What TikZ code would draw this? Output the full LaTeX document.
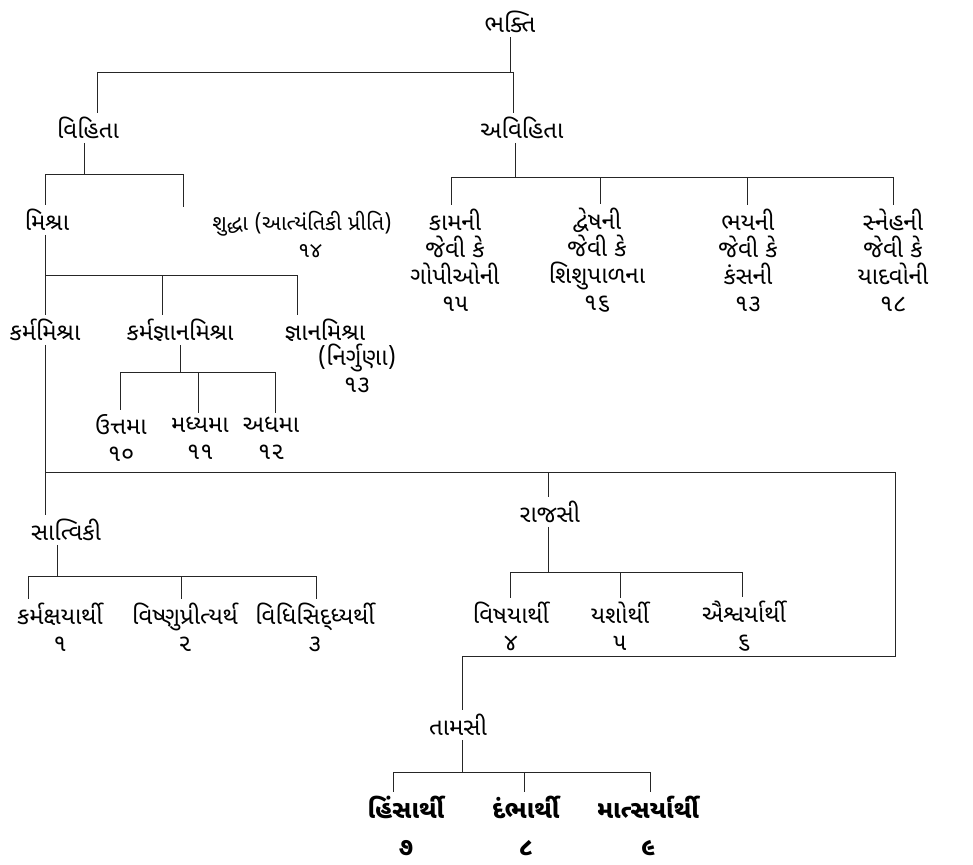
\documentclass[tikz,border=0pt]{standalone}
\usepackage{fontspec}
\newfontfamily\guj[Script=Gujarati]{Noto Sans Gujarati UI}
\begin{document}
\begin{tikzpicture}[x=1pt,y=-1pt,
  lbl/.style={font=\guj\fontsize{24}{27}\selectfont, inner sep=0pt, outer sep=4pt, align=center},
  lbls/.style={font=\guj\fontsize{21.5}{27}\selectfont, inner sep=0pt, outer sep=4pt, align=center},
  lblb/.style={font=\guj\bfseries\fontsize{25}{37}\selectfont, inner sep=0pt, outer sep=4pt, align=center},
  ln/.style={line width=0.6pt, black!85}]
\useasboundingbox (0,0) rectangle (973,864);
% nodes
\node[lbl] (root) at (510,22) {ભક્તિ};
\node[lbl] (vih) at (88,128) {વિહિતા};
\node[lbl] (avih) at (522,128) {અવિહિતા};
\node[lbl] (mis) at (47,220) {મિશ્રા};
\node[lbls] (shu) at (302,234) {શુદ્ધા (આત્યંતિકી પ્રીતિ)\\\hspace*{16pt}૧૪};
\node[lbl] (kam) at (455,260) {કામની\\જેવી કે\\ગોપીઓની\\૧૫};
\node[lbl] (dve) at (597,260) {દ્વેષની\\જેવી કે\\શિશુપાળના\\૧૬};
\node[lbl] (bha) at (748,260) {ભયની\\જેવી કે\\કંસની\\૧૩};
\node[lbl] (sne) at (893,260) {સ્નેહની\\જેવી કે\\યાદવોની\\૧૮};
\node[lbl] (km) at (45,330) {કર્મમિશ્રા};
\node[lbl] (kjm) at (180,330) {કર્મજ્ઞાનમિશ્રા};
\node[lbl] (jm) at (325,330) {જ્ઞાનમિશ્રા};
\node[lbl] (nir) at (357,368) {(નિર્ગુણા)\\૧૩};
\node[lbl] (utt) at (121,438) {ઉત્તમા\\૧૦};
\node[lbl] (mad) at (200,438) {મધ્યમા\\૧૧};
\node[lbl] (adh) at (271,438) {અધમા\\૧૨};
\node[lbl] (sat) at (66,530) {સાત્વિકી};
\node[lbl] (raj) at (550,512) {રાજસી};
\node[lbl] (tam) at (458,725) {તામસી};
\node[lbl] (s1) at (60,627) {કર્મક્ષયાર્થી\\૧};
\node[lbl] (s2) at (185,627) {વિષ્ણુપ્રીત્યર્થ\\૨};
\node[lbl] (s3) at (315,627) {વિધિસિદ્ધ્યર્થી\\૩};
\node[lbl] (r1) at (511,626) {વિષયાર્થી\\૪};
\node[lbl] (r2) at (620,626) {યશોર્થી\\૫};
\node[lbl] (r3) at (744,626) {ઐશ્વર્યાર્થી\\૬};
\node[lblb] (t1) at (406,826) {હિંસાર્થી\\૭};
\node[lblb] (t2) at (526,826) {દંભાર્થી\\૮};
\node[lblb] (t3) at (648,826) {માત્સર્યાર્થી\\૯};
% junction coordinates
\coordinate (a1) at (510,72); \coordinate (a0) at (97,72); \coordinate (a2) at (513,72);
\coordinate (b1) at (84,174); \coordinate (b0) at (45,174); \coordinate (b2) at (183,174);
\coordinate (c1) at (515,177); \coordinate (c0) at (451,177); \coordinate (c2) at (600,177);
\coordinate (c3) at (747,177); \coordinate (c4) at (893,177);
\coordinate (d0) at (45,275); \coordinate (d1) at (162,275); \coordinate (d2) at (297,275);
\coordinate (e0) at (120,372); \coordinate (e1) at (180,372); \coordinate (e2) at (198,372); \coordinate (e3) at (275,372);
\coordinate (f0) at (45,472); \coordinate (f1) at (548,472); \coordinate (f2) at (895,472);
\coordinate (f3) at (895,656); \coordinate (f4) at (462,656);
\coordinate (g1) at (57,576); \coordinate (g0) at (28,576); \coordinate (g2) at (181,576); \coordinate (g3) at (316,576);
\coordinate (h1) at (548,572); \coordinate (h0) at (510,572); \coordinate (h2) at (620,572); \coordinate (h3) at (742,572);
\coordinate (k1) at (462,772); \coordinate (k0) at (393,772); \coordinate (k2) at (524,772); \coordinate (k3) at (650,772);
% connectors
\draw[ln] (root) -- (a1);
\draw[ln] (a0) -- (a2);
\draw[ln] (a0) -- (a0 |- vih.north);
\draw[ln] (a2) -- (a2 |- avih.north);
\draw[ln] (b1 |- vih.south) -- (b1);
\draw[ln] (b0) -- (b2);
\draw[ln] (b0) -- (b0 |- mis.north);
\draw[ln] (b2) -- (b2 |- shu.north);
\draw[ln] (c1 |- avih.south) -- (c1);
\draw[ln] (c0) -- (c4);
\draw[ln] (c0) -- (c0 |- kam.north);
\draw[ln] (c2) -- (c2 |- dve.north);
\draw[ln] (c3) -- (c3 |- bha.north);
\draw[ln] (c4) -- (c4 |- sne.north);
\draw[ln] (d0 |- mis.south) -- (d0);
\draw[ln] (d0) -- (d2);
\draw[ln] (d0) -- (d0 |- km.north);
\draw[ln] (d1) -- (d1 |- kjm.north);
\draw[ln] (d2) -- (d2 |- jm.north);
\draw[ln] (e1 |- kjm.south) -- (e1);
\draw[ln] (e0) -- (e3);
\draw[ln] (e0) -- (e0 |- utt.north);
\draw[ln] (e2) -- (e2 |- mad.north);
\draw[ln] (e3) -- (e3 |- adh.north);
\draw[ln] (f0 |- km.south) -- (f0);
\draw[ln] (f0) -- (f2);
\draw[ln] (f0) -- (f0 |- sat.north);
\draw[ln] (f1) -- (f1 |- raj.north);
\draw[ln] (f2) -- (f3) -- (f4);
\draw[ln] (f4) -- (f4 |- tam.north);
\draw[ln] (g1 |- sat.south) -- (g1);
\draw[ln] (g0) -- (g3);
\draw[ln] (g0) -- (g0 |- s1.north);
\draw[ln] (g2) -- (g2 |- s2.north);
\draw[ln] (g3) -- (g3 |- s3.north);
\draw[ln] (h1 |- raj.south) -- (h1);
\draw[ln] (h0) -- (h3);
\draw[ln] (h0) -- (h0 |- r1.north);
\draw[ln] (h2) -- (h2 |- r2.north);
\draw[ln] (h3) -- (h3 |- r3.north);
\draw[ln] (k1 |- tam.south) -- (k1);
\draw[ln] (k0) -- (k3);
\draw[ln] (k0) -- (k0 |- t1.north);
\draw[ln] (k2) -- (k2 |- t2.north);
\draw[ln] (k3) -- (k3 |- t3.north);
\end{tikzpicture}
\end{document}
